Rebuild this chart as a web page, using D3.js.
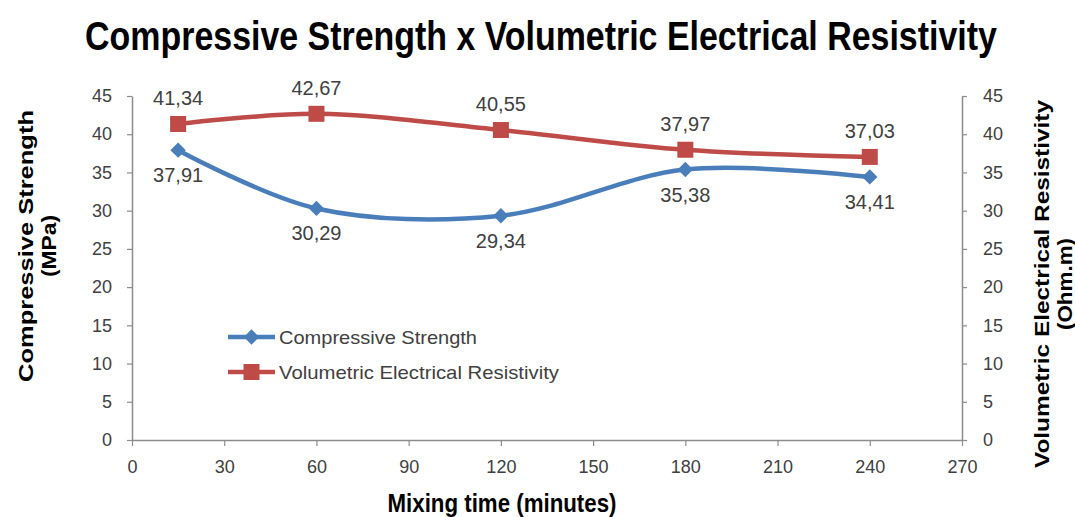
<!DOCTYPE html>
<html><head><meta charset="utf-8">
<script src="https://cdn.jsdelivr.net/npm/d3@7"></script>
<style>body{margin:0;background:#fff}svg{display:block}</style>
</head><body>
<svg id="c" width="1075" height="517"></svg>
<script>
const mixingTimes = [15, 60, 120, 180, 240];
const compressive = [37.91, 30.29, 29.34, 35.38, 34.41];
const resistivity = [41.34, 42.67, 40.55, 37.97, 37.03];
const xTicks = [0, 30, 60, 90, 120, 150, 180, 210, 240, 270];
const yTicks = [0, 5, 10, 15, 20, 25, 30, 35, 40, 45];
const seriesNames = ["Compressive Strength", "Volumetric Electrical Resistivity"];
const fmt = v => v.toFixed(2).replace(".", ",");

const svg = d3.select("#c");
const L = 132, R = 962, T = 96, B = 440;
const x = d3.scaleLinear().domain([0, 270]).range([L, R]);
const yL = d3.scaleLinear().domain([0, 45]).range([B, T]);
const yR = d3.scaleLinear().domain([0, 45]).range([B, T]);
const axisCol = "#8c8c8c", textCol = "#404040";
const blue = "#4a7ebb", red = "#be4b48";
const narrow = "'Liberation Sans Narrow', 'Arial Narrow', 'Liberation Sans', sans-serif";
const sans = "'Liberation Sans', Arial, sans-serif";

// Title: fit natural width to the reference span
const title = svg.append("text").attr("x", 541).attr("y", 50).attr("text-anchor", "middle")
  .attr("font-family", narrow).attr("font-weight", "bold").attr("font-size", 40)
  .attr("fill", "#000").text("Compressive Strength x Volumetric Electrical Resistivity");
const tl = title.node().getComputedTextLength();
const ts = 912 / tl;
title.attr("transform", `translate(541,50) scale(${ts},1) translate(-541,-50)`);

function styleAxis(g) {
  g.selectAll("path.domain").attr("stroke", axisCol).attr("stroke-width", 1.5);
  g.selectAll(".tick line").attr("stroke", axisCol).attr("stroke-width", 1.2);
  g.selectAll(".tick text").attr("fill", textCol);
}

// Axes
const gx = svg.append("g").attr("transform", `translate(0,${B})`)
  .call(d3.axisBottom(x).tickValues(xTicks).tickSize(6).tickSizeOuter(0).tickPadding(14));
styleAxis(gx);
gx.selectAll(".tick text").attr("font-family", narrow).attr("font-size", 18);

const gl = svg.append("g").attr("transform", `translate(${L},0)`)
  .call(d3.axisLeft(yL).tickValues(yTicks).tickSize(5).tickSizeOuter(0).tickPadding(15));
styleAxis(gl);
gl.selectAll(".tick text").attr("font-family", sans).attr("font-size", 18);

const gr = svg.append("g").attr("transform", `translate(${R},0)`)
  .call(d3.axisRight(yR).tickValues(yTicks).tickSize(5).tickSizeOuter(0).tickPadding(16));
styleAxis(gr);
gr.selectAll(".tick text").attr("font-family", sans).attr("font-size", 18);

// Axis titles
const lt = svg.append("text").attr("transform", "translate(33,246) rotate(-90)")
  .attr("text-anchor", "middle").attr("font-family", sans).attr("font-weight", "bold")
  .attr("font-size", 20).attr("fill", "#000");
lt.append("tspan").attr("x", 0).attr("dy", 0).attr("textLength", 272)
  .attr("lengthAdjust", "spacingAndGlyphs").text("Compressive Strength");
lt.append("tspan").attr("x", 0).attr("dy", 23).attr("textLength", 62)
  .attr("lengthAdjust", "spacingAndGlyphs").text("(MPa)");

const rt = svg.append("text").attr("transform", "translate(1049,284) rotate(-90)")
  .attr("text-anchor", "middle").attr("font-family", sans).attr("font-weight", "bold")
  .attr("font-size", 20).attr("fill", "#000");
rt.append("tspan").attr("x", 0).attr("dy", 0).attr("textLength", 368)
  .attr("lengthAdjust", "spacingAndGlyphs").text("Volumetric Electrical Resistivity");
rt.append("tspan").attr("x", 0).attr("dy", 23).attr("textLength", 92)
  .attr("lengthAdjust", "spacingAndGlyphs").text("(Ohm.m)");

svg.append("text").attr("x", 502).attr("y", 512).attr("text-anchor", "middle")
  .attr("font-family", narrow).attr("font-weight", "bold").attr("font-size", 25).attr("fill", "#000")
  .attr("textLength", 229).attr("lengthAdjust", "spacingAndGlyphs")
  .text("Mixing time (minutes)");

// Lines
const curve = d3.curveCatmullRom.alpha(0.5);
const lineL = d3.line().x((d, i) => x(mixingTimes[i])).y(d => yL(d)).curve(curve);
const lineR = d3.line().x((d, i) => x(mixingTimes[i])).y(d => yR(d)).curve(curve);

svg.append("path").attr("d", lineR(resistivity)).attr("fill", "none")
  .attr("stroke", red).attr("stroke-width", 4.5).attr("stroke-linejoin", "round");
svg.append("path").attr("d", lineL(compressive)).attr("fill", "none")
  .attr("stroke", blue).attr("stroke-width", 4.5).attr("stroke-linejoin", "round");

// Markers
const sq = 16;
svg.selectAll("rect.m").data(resistivity).join("rect").attr("class", "m")
  .attr("x", (d, i) => x(mixingTimes[i]) - sq / 2).attr("y", d => yR(d) - sq / 2)
  .attr("width", sq).attr("height", sq).attr("fill", red);
const diamond = d3.symbol().type(d3.symbolDiamond2).size(150);
svg.selectAll("path.m").data(compressive).join("path").attr("class", "m")
  .attr("d", diamond).attr("transform", (d, i) => `translate(${x(mixingTimes[i])},${yL(d)})`)
  .attr("fill", blue);

// Value labels
svg.selectAll("text.lr").data(resistivity).join("text").attr("class", "lr")
  .attr("x", (d, i) => x(mixingTimes[i])).attr("y", d => yR(d) - 19)
  .attr("text-anchor", "middle").attr("font-family", sans).attr("font-size", 20)
  .attr("fill", textCol).text(fmt);
svg.selectAll("text.ll").data(compressive).join("text").attr("class", "ll")
  .attr("x", (d, i) => x(mixingTimes[i])).attr("y", d => yL(d) + 32)
  .attr("text-anchor", "middle").attr("font-family", sans).attr("font-size", 20)
  .attr("fill", textCol).text(fmt);

// Legend
const legend = [{name: seriesNames[0], col: blue, y: 337, mk: "d", w: 198},
                {name: seriesNames[1], col: red, y: 372, mk: "s", w: 280}];
legend.forEach(e => {
  svg.append("line").attr("x1", 228).attr("x2", 275).attr("y1", e.y).attr("y2", e.y)
    .attr("stroke", e.col).attr("stroke-width", 4.5);
  if (e.mk === "s") {
    svg.append("rect").attr("x", 251.5 - sq / 2).attr("y", e.y - sq / 2).attr("width", sq).attr("height", sq).attr("fill", e.col);
  } else {
    svg.append("path").attr("d", diamond).attr("transform", `translate(251.5,${e.y})`).attr("fill", e.col);
  }
  svg.append("text").attr("x", 279).attr("y", e.y + 7).attr("font-family", sans)
    .attr("font-size", 19).attr("fill", textCol)
    .attr("textLength", e.w).attr("lengthAdjust", "spacingAndGlyphs").text(e.name);
});
</script>
</body></html>
